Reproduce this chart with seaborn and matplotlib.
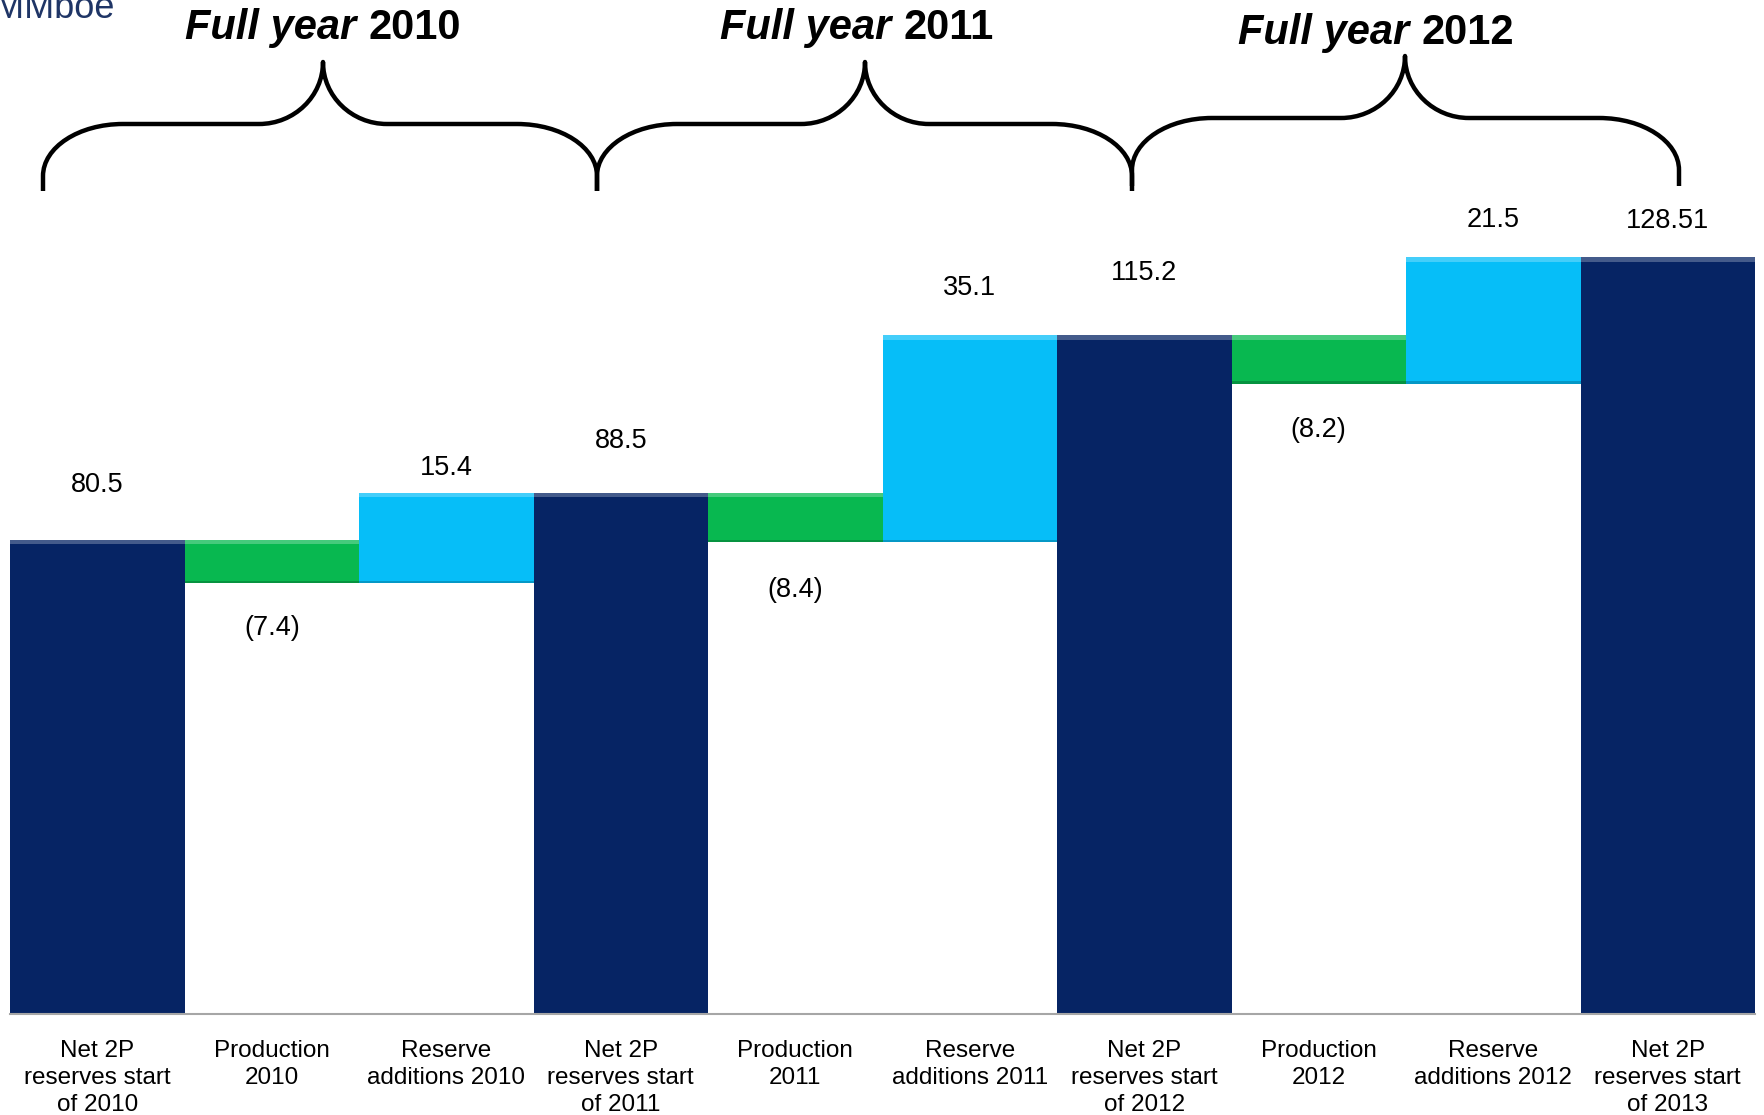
import numpy as np
import pandas as pd
import matplotlib
matplotlib.use("Agg")
import matplotlib.pyplot as plt
import seaborn as sns
from matplotlib.path import Path
from matplotlib.patches import PathPatch, Rectangle

# ---------------- data ----------------
categories = [
    "Net 2P\nreserves start\nof 2010", "Production\n2010", "Reserve\nadditions 2010",
    "Net 2P\nreserves start\nof 2011", "Production\n2011", "Reserve\nadditions 2011",
    "Net 2P\nreserves start\nof 2012", "Production\n2012", "Reserve\nadditions 2012",
    "Net 2P\nreserves start\nof 2013",
]
kinds = ["total", "prod", "add", "total", "prod", "add", "total", "prod", "add", "total"]
values = [80.5, -7.4, 15.4, 88.5, -8.4, 35.1, 115.2, -8.2, 21.5, 128.51]
value_labels = ["80.5", "(7.4)", "15.4", "88.5", "(8.4)", "35.1", "115.2", "(8.2)", "21.5", "128.51"]
period_years = ["2010", "2011", "2012"]
unit_label = "MMboe"

# ---------------- styling / layout ----------------
kind_colors = {"total": "#062464", "prod": "#08B850", "add": "#06BEF8"}
label_offsets_px = [55, -45, 25, 52, -48, 47, 62, -46, 37, 36]
W, H = 1764, 1115
DPI = 100
FONT = "Liberation Sans"

# waterfall geometry from values
tops, bottoms = [], []
running = 0.0
for k, v in zip(kinds, values):
    if k == "total":
        bottoms.append(0.0); tops.append(v); running = v
    elif k == "prod":
        tops.append(running); running = running + v; bottoms.append(running)
    else:
        bottoms.append(running); running = running + v; tops.append(running)

df = pd.DataFrame({"cat": categories, "kind": kinds, "top": tops, "bottom": bottoms})
palette = {c: kind_colors[k] for c, k in zip(categories, kinds)}

sns.set_theme(style="white")
plt.rcParams["font.family"] = [FONT, "DejaVu Sans"]
plt.rcParams["text.color"] = "black"

fig = plt.figure(figsize=(W / DPI, H / DPI), dpi=DPI)
fig.patch.set_facecolor("white")

base_px = 1014
top_px = 200
px_per_unit = 5.89
ax = fig.add_axes([10 / W, (H - base_px) / H, (1755 - 10) / W, (base_px - top_px) / H])

sns.barplot(data=df, x="cat", y="top", hue="cat", palette=palette, order=categories,
            hue_order=categories, width=1.0, dodge=False, legend=False, saturation=1,
            errorbar=None, linewidth=0, ax=ax)
sns.barplot(data=df, x="cat", y="bottom", color="white", order=categories, width=1.0,
            saturation=1, errorbar=None, linewidth=0, ax=ax)

ax.set_xlim(-0.5, len(categories) - 0.5)
ax.set_ylim(0, (base_px - top_px) / px_per_unit)

# bevel-like edges on the coloured bars
bevel = 4.5 / px_per_unit
for i, row in df.iterrows():
    x0, w = i - 0.5, 1.0
    col = np.array(matplotlib.colors.to_rgb(kind_colors[row["kind"]]))
    light = tuple(col + (1 - col) * 0.25)
    dark = tuple(col * 0.8)
    ax.add_patch(Rectangle((x0, row["top"] - bevel), w, bevel, facecolor=light,
                           edgecolor="none", zorder=3))
    if row["bottom"] > 0:
        ax.add_patch(Rectangle((x0, row["bottom"]), w, bevel * 0.6, facecolor=dark,
                               edgecolor="none", zorder=3))

# value labels
for i, (lab, off) in enumerate(zip(value_labels, label_offsets_px)):
    yref = df["top"][i] if off > 0 else df["bottom"][i]
    ax.annotate(lab, (i, yref), xytext=(0, off), textcoords="offset pixels",
                ha="center", va="center", fontsize=19.5, color="black", family=FONT)

sns.despine(ax=ax, left=True, top=True, right=True)
ax.spines["bottom"].set_color("#A6A6A6")
ax.spines["bottom"].set_linewidth(1.5)
ax.set_yticks([])
ax.set_xlabel(""); ax.set_ylabel("")
ax.set_xticks(range(len(categories)))
ax.set_xticklabels(categories, fontsize=17.5, family=FONT, linespacing=1.3)
ax.tick_params(axis="x", which="major", length=0, pad=18.5, colors="black")
ax.set_xticks(np.arange(-0.5, len(categories)), minor=True)
ax.tick_params(axis="x", which="minor", length=7, width=1.5, color="#A6A6A6", direction="out")
ax.grid(False)

# overlay axes in pixel coordinates for braces and period titles
ov = fig.add_axes([0, 0, 1, 1], facecolor="none")
ov.set_xlim(0, W); ov.set_ylim(H, 0); ov.axis("off")

def brace(L, M, R, T, Hh, E, rx=80, ry=52, rx2=64):
    k = 0.5523
    verts = [(L, E), (L, Hh + ry),
             (L, Hh + ry * (1 - k)), (L + rx * (1 - k), Hh), (L + rx, Hh),
             (M - rx2, Hh),
             (M - rx2 + k * rx2, Hh), (M, T + k * (Hh - T)), (M, T),
             (M, T + k * (Hh - T)), (M + rx2 - k * rx2, Hh), (M + rx2, Hh),
             (R - rx, Hh),
             (R - rx * (1 - k), Hh), (R, Hh + ry * (1 - k)), (R, Hh + ry),
             (R, E)]
    codes = [Path.MOVETO, Path.LINETO,
             Path.CURVE4, Path.CURVE4, Path.CURVE4,
             Path.LINETO,
             Path.CURVE4, Path.CURVE4, Path.CURVE4,
             Path.CURVE4, Path.CURVE4, Path.CURVE4,
             Path.LINETO,
             Path.CURVE4, Path.CURVE4, Path.CURVE4,
             Path.LINETO]
    ov.add_patch(PathPatch(Path(verts, codes), facecolor="none", edgecolor="black",
                           lw=3.2, capstyle="butt", joinstyle="round"))

braces = [(43, 323, 597, 62, 124, 191), (597, 865, 1132, 62, 124, 191),
          (1132, 1405, 1679, 56, 118, 186)]
title_pos = [(323, 28), (857, 28), (1376, 33)]
for b in braces:
    brace(*b)

fig.canvas.draw()
renderer = fig.canvas.get_renderer()
for yr, (cx, cy) in zip(period_years, title_pos):
    t1 = ov.text(0, cy, "Full year ", fontsize=30, fontweight="bold", fontstyle="italic",
                 family=FONT, va="center", ha="left", color="black")
    t2 = ov.text(0, cy, yr, fontsize=30, fontweight="bold", family=FONT, va="center",
                 ha="left", color="black")
    w1 = t1.get_window_extent(renderer).width
    w2 = t2.get_window_extent(renderer).width
    left = cx - (w1 + w2) / 2
    t1.set_x(left)
    t2.set_x(left + w1)

ov.text(114, 9, unit_label, fontsize=26, color="#1F3566", family=FONT, ha="right", va="center")

fig.savefig("out.png", dpi=DPI, facecolor="white")
